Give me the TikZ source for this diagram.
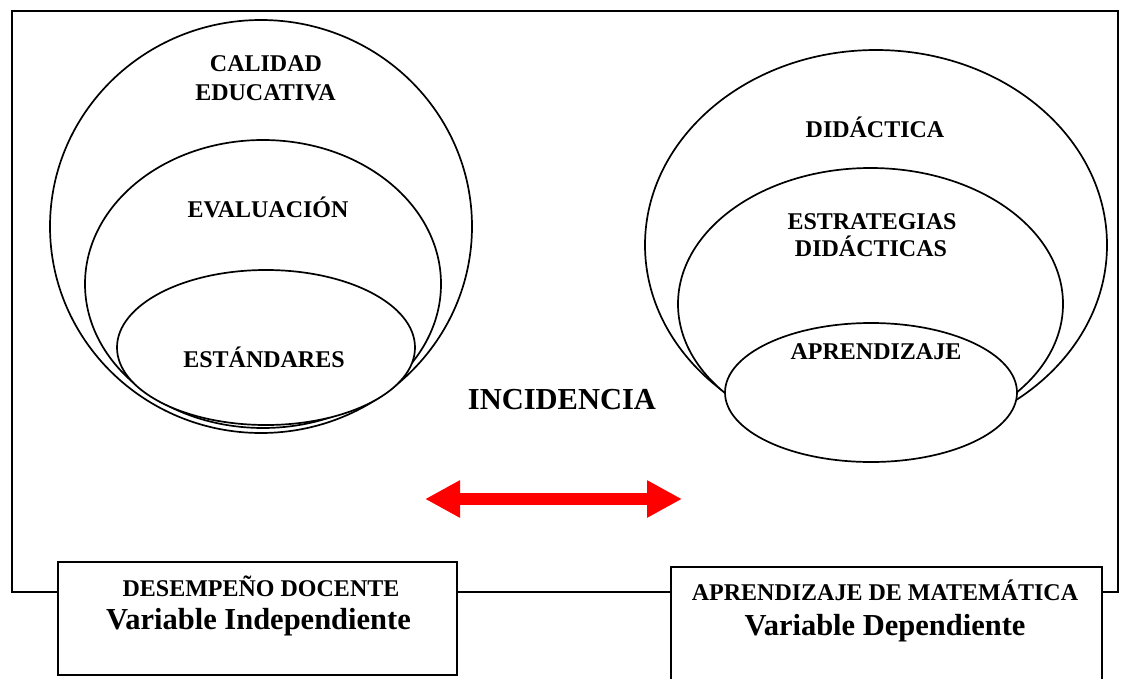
\documentclass[tikz,border=0pt]{standalone}
\usepackage{fontspec}
\setmainfont{Liberation Serif}
\usetikzlibrary{shapes.geometric,arrows.meta}
\tikzset{
  ell/.style={ellipse, draw=black, line width=1.7pt, fill=white, inner sep=0pt},
  lbl/.style={anchor=base, inner sep=0pt, font=\fontsize{24}{28}\selectfont\bfseries},
  biglbl/.style={anchor=base, inner sep=0pt, font=\fontsize{30.5}{34}\selectfont\bfseries},
  varbox/.style={draw=black, line width=1.7pt, fill=white, rectangle, inner sep=0pt},
  dblarrow/.style={red, line width=12pt, {Triangle[length=35pt,width=35pt]}-{Triangle[length=35pt,width=35pt]}}
}
\begin{document}
\begin{tikzpicture}[x=1pt,y=-1pt]
\useasboundingbox (0,0) rectangle (1123,679);
\clip (0,0) rectangle (1123,679);
% frame
\draw[line width=1.2pt] (12,11) rectangle (1118,592);
% left ellipses
\node[ell, minimum width=422pt, minimum height=413pt] (calidad) at (261,226.5) {};
\node[ell, minimum width=356pt, minimum height=288pt] (evaluacion) at (263,284) {};
\node[ell, minimum width=298pt, minimum height=155pt] (estandares) at (266,347.5) {};
% right ellipses
\node[ell, minimum width=462pt, minimum height=390pt] (didactica) at (876,245) {};
\node[ell, minimum width=385pt, minimum height=272pt] (estrategias) at (870.5,304) {};
\node[ell, minimum width=292pt, minimum height=139pt] (aprendizaje) at (871,392.5) {};
% labels
\node[lbl] (t1a) at (266,72) {CALIDAD};
\node[lbl] (t1b) at (265.5,101) {EDUCATIVA};
\node[lbl] (t2) at (268,217) {EVALUACIÓN};
\node[lbl] (t3) at (264,367) {ESTÁNDARES};
\node[lbl] (t4) at (875,138) {DIDÁCTICA};
\node[lbl] (t5a) at (872,229) {ESTRATEGIAS};
\node[lbl] (t5b) at (871,256) {DIDÁCTICAS};
\node[lbl] (t6) at (876,359) {APRENDIZAJE};
\node[biglbl] (inc) at (562,409) {INCIDENCIA};
% arrow
\coordinate (aL) at (425,499);
\coordinate (aR) at (682,499);
\draw[dblarrow] (aL) -- (aR);
% boxes
\node[varbox, minimum width=399pt, minimum height=113pt] (boxL) at (257.5,618.5) {};
\node[varbox, minimum width=431pt, minimum height=123pt] (boxR) at (886.5,628.5) {};
\node[lbl] (bL1) at (261,596) {DESEMPEÑO DOCENTE};
\node[biglbl] (bL2) at (258.5,629) {Variable Independiente};
\node[lbl] (bR1) at (885,600) {APRENDIZAJE DE MATEMÁTICA};
\node[biglbl] (bR2) at (885,635) {Variable Dependiente};
\end{tikzpicture}
\end{document}
